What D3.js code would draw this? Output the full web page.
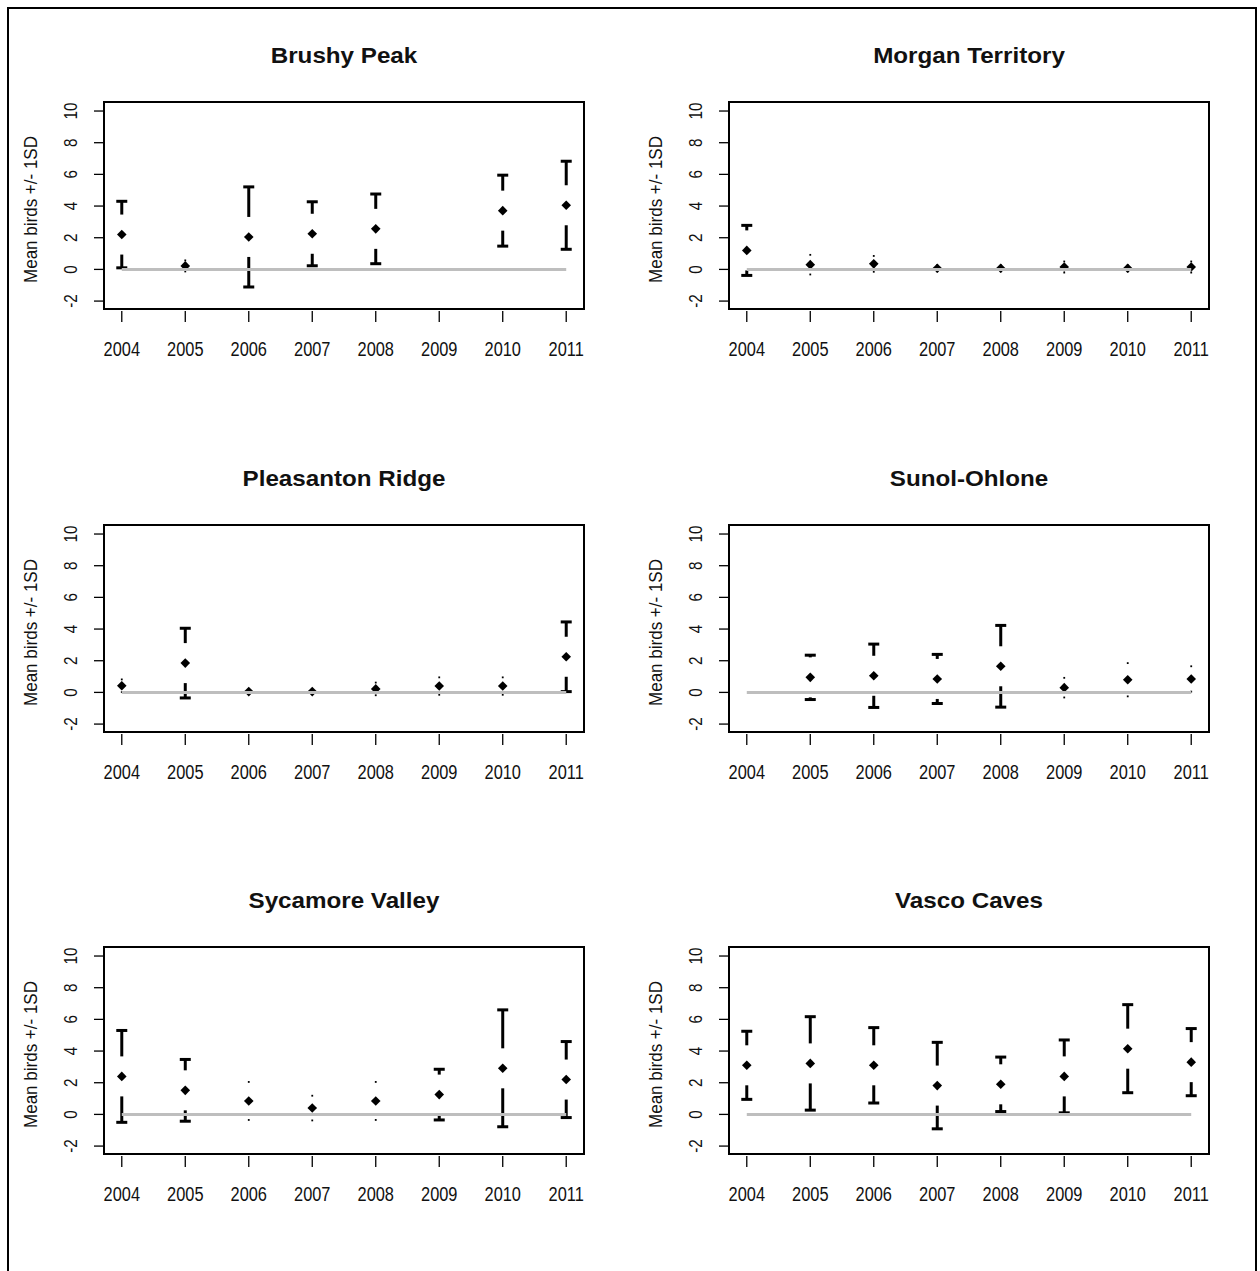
<!DOCTYPE html>
<html><head><meta charset="utf-8">
<script src="https://cdn.jsdelivr.net/npm/d3@7"></script>
<style>body{margin:0;background:#fff;} svg{display:block;}</style>
</head><body>
<svg id="chart" width="1260" height="1271"></svg>
<script>
// ---- data ----
const years = [2004, 2005, 2006, 2007, 2008, 2009, 2010, 2011];
const yTicks = [-2, 0, 2, 4, 6, 8, 10];
const yAxisTitle = "Mean birds +/- 1SD";
const sites = ["Brushy Peak", "Morgan Territory", "Pleasanton Ridge", "Sunol-Ohlone", "Sycamore Valley", "Vasco Caves"];

const brushyMean      = [2.20, 0.22, 2.05, 2.25, 2.56, null, 3.71, 4.05];
const brushySD        = [2.10, 0.35, 3.16, 2.02, 2.20, null, 2.24, 2.78];
const morganMean      = [1.20, 0.30, 0.35, 0.07, 0.07, 0.15, 0.07, 0.15];
const morganSD        = [1.58, 0.62, 0.50, 0.20, 0.20, 0.35, 0.20, 0.35];
const pleasantonMean  = [0.42, 1.85, 0.05, 0.05, 0.22, 0.40, 0.40, 2.25];
const pleasantonSD    = [0.40, 2.20, 0.10, 0.10, 0.40, 0.55, 0.55, 2.20];
const sunolMean       = [null, 0.95, 1.05, 0.85, 1.65, 0.30, 0.80, 0.85];
const sunolSD         = [null, 1.40, 2.00, 1.55, 2.58, 0.62, 1.05, 0.80];
const sycamoreMean    = [2.40, 1.52, 0.85, 0.40, 0.85, 1.25, 2.91, 2.20];
const sycamoreSD      = [2.90, 1.95, 1.20, 0.78, 1.20, 1.60, 3.69, 2.40];
const vascoMean       = [3.10, 3.22, 3.10, 1.82, 1.90, 2.40, 4.15, 3.30];
const vascoSD         = [2.15, 2.95, 2.38, 2.73, 1.72, 2.30, 2.78, 2.12];

const siteMeans = [brushyMean, morganMean, pleasantonMean, sunolMean, sycamoreMean, vascoMean];
const siteSDs   = [brushySD, morganSD, pleasantonSD, sunolSD, sycamoreSD, vascoSD];

// ---- layout ----
const colLeft = [104, 729];
const rowTop = [102, 525, 947];
const boxW = 480, boxH = 207;
const gapPx = 20, capHalf = 5.5;

const svg = d3.select("#chart");
const FONT = "'Liberation Sans', Arial, sans-serif";

// outer frame
svg.append("path")
  .attr("d", "M8,1275 L8,8 L1256,8 L1256,1275")
  .attr("fill", "none").attr("stroke", "#000").attr("stroke-width", 2);

sites.forEach((name, i) => {
  const col = i % 2, row = Math.floor(i / 2);
  const L = colLeft[col], T = rowTop[row];
  const x = d3.scaleLinear().domain([2003.72, 2011.28]).range([L, L + boxW]);
  const y = d3.scaleLinear().domain([-2.5, 10.57]).range([T + boxH, T]);
  const g = svg.append("g");
  const means = siteMeans[i], sds = siteSDs[i];

  // title
  g.append("text")
    .attr("transform", `translate(${L + boxW / 2},${T - 39}) scale(1.1,1)`)
    .attr("text-anchor", "middle").attr("font-family", FONT)
    .attr("font-weight", "bold").attr("font-size", 22).attr("fill", "#111").text(name);

  // x axis ticks + labels
  const xa = g.append("g");
  years.forEach(yr => {
    xa.append("line").attr("x1", x(yr)).attr("x2", x(yr))
      .attr("y1", T + boxH + 2).attr("y2", T + boxH + 13)
      .attr("stroke", "#000").attr("stroke-width", 1.3);
    xa.append("text")
      .attr("transform", `translate(${x(yr)},${T + boxH + 47}) scale(0.78,1)`)
      .attr("text-anchor", "middle").attr("font-family", FONT)
      .attr("font-size", 21).attr("fill", "#111").text(yr);
  });

  // y axis ticks + labels
  yTicks.forEach(v => {
    g.append("line").attr("x1", L - 10).attr("x2", L - 1)
      .attr("y1", y(v)).attr("y2", y(v))
      .attr("stroke", "#000").attr("stroke-width", 1.3);
    g.append("text")
      .attr("transform", `translate(${L - 27},${y(v)}) rotate(-90) scale(0.8,1)`)
      .attr("text-anchor", "middle").attr("font-family", FONT)
      .attr("font-size", 19).attr("fill", "#111").text(v);
  });
  g.append("text")
    .attr("transform", `translate(${L - 67},${T + boxH / 2 + 4}) rotate(-90) scale(0.945,1)`)
    .attr("text-anchor", "middle").attr("font-family", FONT)
    .attr("font-size", 18).attr("fill", "#111").text(yAxisTitle);

  // box
  g.append("rect").attr("x", L).attr("y", T).attr("width", boxW).attr("height", boxH)
    .attr("fill", "none").attr("stroke", "#000").attr("stroke-width", 2);

  const data = years.map((yr, k) => ({yr, m: means[k], s: sds[k]})).filter(d => d.m != null);

  // error bars
  const bars = g.append("g").attr("stroke", "#000").attr("stroke-width", 3).attr("fill", "#000");
  data.forEach(d => {
    const cx = x(d.yr), cy = y(d.m);
    const up = y(d.m + d.s), lo = y(d.m - d.s);
    if (cy - up > gapPx) {
      bars.append("line").attr("x1", cx).attr("x2", cx).attr("y1", up).attr("y2", cy - gapPx);
      bars.append("line").attr("x1", cx - capHalf).attr("x2", cx + capHalf).attr("y1", up).attr("y2", up);
    } else {
      bars.append("rect").attr("x", cx - 0.9).attr("y", up - 0.9).attr("width", 1.8).attr("height", 1.8).attr("stroke", "none");
    }
    if (lo - cy > gapPx) {
      bars.append("line").attr("x1", cx).attr("x2", cx).attr("y1", lo).attr("y2", cy + gapPx);
      bars.append("line").attr("x1", cx - capHalf).attr("x2", cx + capHalf).attr("y1", lo).attr("y2", lo);
    } else {
      bars.append("rect").attr("x", cx - 0.9).attr("y", lo - 0.9).attr("width", 1.8).attr("height", 1.8).attr("stroke", "none");
    }
  });

  // points (filled diamonds)
  const r = 4.8;
  g.selectAll("path.pt").data(data).enter().append("path")
    .attr("class", "pt")
    .attr("d", d => { const cx = x(d.yr), cy = y(d.m);
      return `M${cx},${cy - r}L${cx + r},${cy}L${cx},${cy + r}L${cx - r},${cy}Z`; })
    .attr("fill", "#000");

  // zero reference line (drawn on top)
  g.append("line").attr("x1", x(years[0])).attr("x2", x(years[years.length - 1]))
    .attr("y1", y(0)).attr("y2", y(0))
    .attr("stroke", "#bebebe").attr("stroke-width", 3);
});
</script>
</body></html>
